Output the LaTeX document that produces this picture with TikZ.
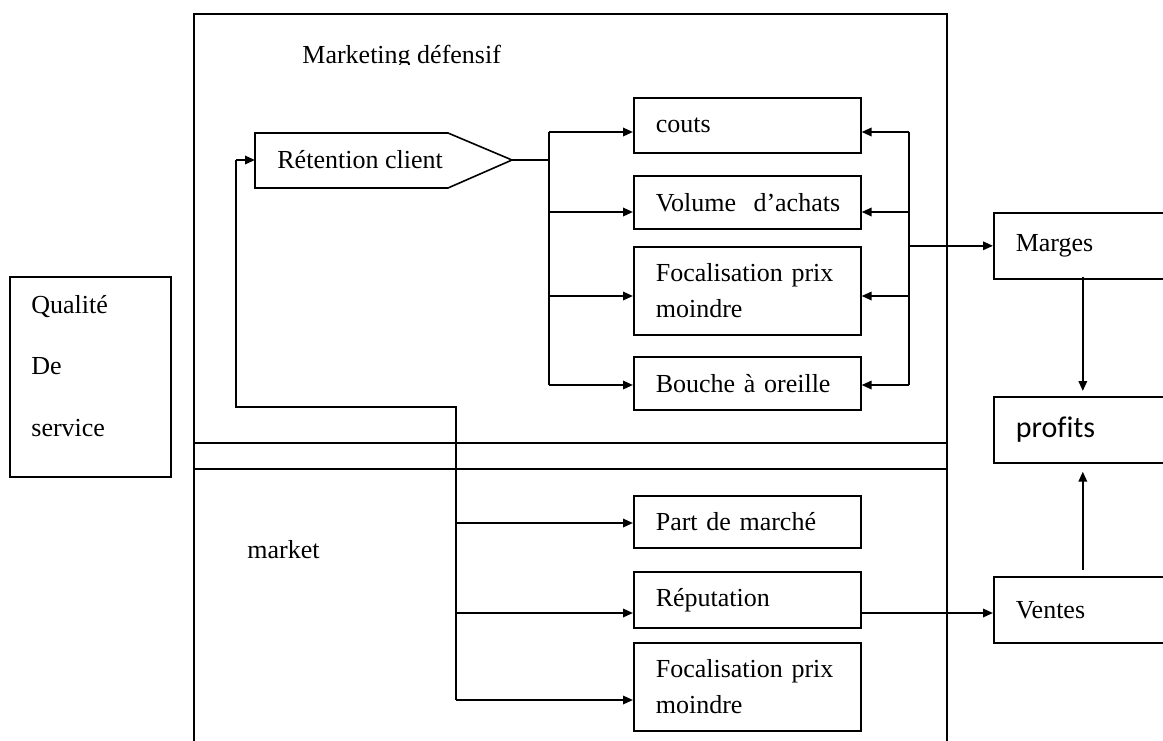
\documentclass[tikz,border=0pt]{standalone}
\usepackage{fontspec}
\setmainfont{Liberation Serif}
\newfontfamily\sansbox[Ligatures=NoCommon]{Carlito}
\usetikzlibrary{arrows.meta,calc}

\tikzset{
  box/.style={draw, line width=0.8pt, rectangle, anchor=north west,
    inner xsep=11pt, inner ysep=0pt, align=left,
    font=\fontsize{13}{18}\selectfont},
  colbox/.style={box, text width=91.5pt, minimum width=113.5pt},
  sidebox/.style={box, text width=67pt, minimum width=89pt, minimum height=33pt},
  arr/.style={line width=1pt, -{Triangle[length=5pt,width=4.2pt]}},
  link/.style={line width=1pt},
  panel/.style={line width=0.7pt},
  loopline/.style={line width=0.75pt},
  lbl/.style={font=\fontsize{13}{18}\selectfont, inner sep=0pt, anchor=base west},
}

\begin{document}
\begin{tikzpicture}[x=0.5pt,y=-0.5pt]
\useasboundingbox (0,0) rectangle (1163,740);
\clip (0,0) rectangle (1163,740);

% outer panel split in two parts
\draw[panel] (194,750) -- (194,14) -- (947,14) -- (947,750);
\draw[panel] (194,443) -- (947,443);
\draw[panel] (194,469) -- (947,469);

% panel titles
\begin{scope}
  \clip (290,30) rectangle (520,64);
  \node[lbl] (mdtitle) at (302,63) {Marketing défensif};
\end{scope}
\node[lbl] (mktitle) at (247,558) {market};

% service quality box
\node[draw, line width=0.8pt, anchor=north west, inner sep=0pt,
      minimum width=80.5pt, minimum height=100pt] (qds) at (9,276) {};
\node[lbl] (q1) at (31,313) {Qualité};
\node[lbl] (q2) at (31,374) {De};
\node[lbl] (q3) at (31,436) {service};

% customer retention (pentagon)
\coordinate (retW) at (255,160);
\coordinate (retTip) at (512,160);
\draw[line width=0.8pt] (255,133) -- (448,133) -- (retTip) -- (448,188) -- (255,188) -- cycle;
\node[lbl] (rettext) at (277,168) {Rétention client};

% defensive marketing effects
\node[colbox, minimum height=27.5pt] (couts)  at (633,97)  {couts};
\node[colbox, minimum height=26.5pt] (vol)    at (633,175) {\mbox{Volume\ \ d’achats}};
\node[colbox, minimum height=44pt]   (foc1)   at (633,246) {Focalisation prix\\moindre};
\node[colbox, minimum height=26.5pt] (bouche) at (633,356) {Bouche à oreille};

% market effects
\node[colbox, minimum height=26pt] (part) at (633,495) {Part de marché};
\node[colbox, minimum height=28pt] (rep)  at (633,571) {Réputation};
\node[colbox, minimum height=44pt] (foc2) at (633,642) {Focalisation prix\\moindre};

% results
\node[sidebox] (marges) at (993,212) {Marges};
\node[sidebox, font=\sansbox\fontsize{15}{18}\selectfont] (profits) at (993,396) {profits};
\node[sidebox] (ventes) at (993,576) {Ventes};

% left distribution trunk
\coordinate (L1) at (549,132);
\coordinate (L2) at (549,212);
\coordinate (L3) at (549,296);
\coordinate (L4) at (549,385);
\draw[link] (retTip) -- (retTip -| L1);
\draw[link] (L1) -- (L4);
\draw[arr] (L1) -- (L1 -| couts.west);
\draw[arr] (L2) -- (L2 -| vol.west);
\draw[arr] (L3) -- (L3 -| foc1.west);
\draw[arr] (L4) -- (L4 -| bouche.west);

% right collecting trunk
\coordinate (R1) at (909,132);
\coordinate (R2) at (909,212);
\coordinate (R3) at (909,296);
\coordinate (R4) at (909,385);
\draw[link] (R1) -- (R4);
\draw[arr] (R1) -- (R1 -| couts.east);
\draw[arr] (R2) -- (R2 -| vol.east);
\draw[arr] (R3) -- (R3 -| foc1.east);
\draw[arr] (R4) -- (R4 -| bouche.east);
\draw[arr] (R1 |- marges.west) -- (marges.west);

% feedback loop and market branches
\coordinate (M0) at (456,407);
\coordinate (M1) at (456,523);
\coordinate (M2) at (456,613);
\coordinate (M3) at (456,700);
\coordinate (F1) at (236,407);
\draw[loopline] (M3) -- (M0) -- (F1) -- (F1 |- retW);
\draw[arr] (F1 |- retW) -- (retW);
\draw[arr] (M1) -- (M1 -| part.west);
\draw[arr] (M2) -- (M2 -| rep.west);
\draw[arr] (M3) -- (M3 -| foc2.west);

% towards the results
\draw[arr] (M2 -| rep.east) -- (M2 -| ventes.west);
\draw[arr, shorten >=2.5pt] ([yshift=1.5pt]marges.south) -- (profits.north);
\draw[arr, shorten <=3pt, shorten >=4pt] (ventes.north) -- (profits.south);
\end{tikzpicture}
\end{document}
